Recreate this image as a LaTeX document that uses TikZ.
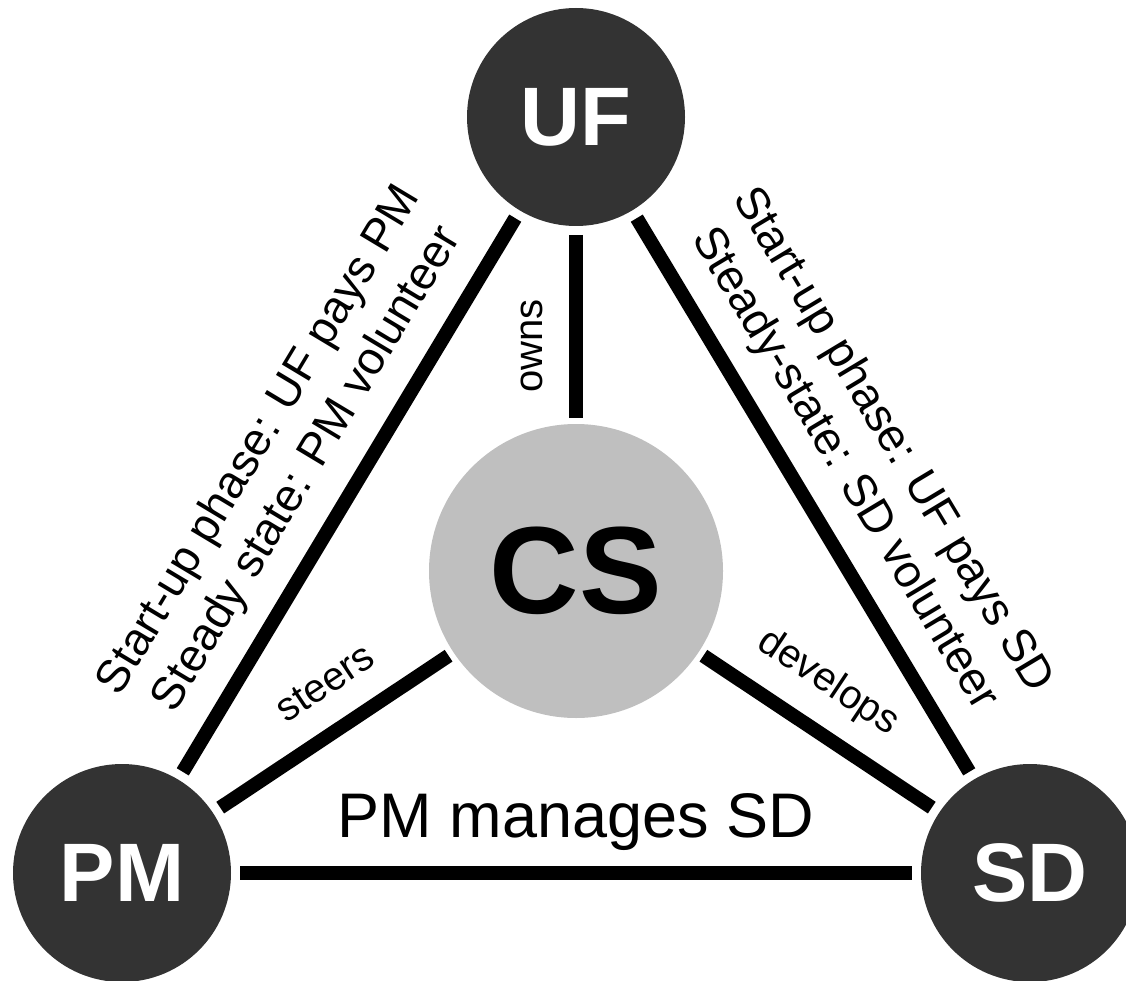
\documentclass[tikz,border=0pt]{standalone}
\usepackage{fontspec}
\setmainfont{Liberation Sans}
\usepackage{xcolor}
\definecolor{rolegray}{HTML}{333333}
\definecolor{coregray}{HTML}{BFBFBF}

\begin{document}
\begin{tikzpicture}[x=1pt, y=-1pt,
    role/.style={circle, fill=rolegray, text=white, minimum size=218pt, inner sep=0pt, outer sep=9pt,
      font=\fontsize{83}{83}\selectfont\bfseries},
    core/.style={circle, fill=coregray, text=black, minimum size=294pt, inner sep=0pt, outer sep=6pt,
      font=\fontsize{124}{124}\selectfont\bfseries},
    link/.style={line width=14pt, black},
    tag/.style={inner sep=0pt, font=\fontsize{40}{40}\selectfont},
    deal/.style={inner sep=0pt, align=center, font=\fontsize{46}{56}\selectfont}]
  \useasboundingbox (0,0) rectangle (1126,981);
  \node[role] (UF) at (576,117) {UF};
  \node[role] (PM) at (122,873) {PM};
  \node[role] (SD) at (1030,873) {SD};
  \node[core] (CS) at (576,571) {CS};
  % relations
  \draw[link] (UF) -- (PM);
  \draw[link] (UF) -- (SD);
  \draw[link] (UF) -- (CS);
  \draw[link] (PM) -- (CS);
  \draw[link] (SD) -- (CS);
  \draw[link] (PM) -- (SD);
  \node[tag, rotate=90] (owns) at (532,346) {owns};
  \node[tag, rotate=33.7] (steers) at (325,683) {steers};
  \node[tag, rotate=-33.7] (develops) at (828,683) {develops};
  \node[inner sep=0pt, anchor=base, font=\fontsize{63}{63}\selectfont] (manages) at (576,837) {PM manages SD};
  \node[deal, rotate=59] (payPM) at (284,455) {Start-up phase: UF pays PM\\Steady state: PM volunteer};
  \node[deal, rotate=-59] (paySD) at (868,455) {Start-up phase: UF pays SD\\Steady-state: SD volunteer};
\end{tikzpicture}
\end{document}
